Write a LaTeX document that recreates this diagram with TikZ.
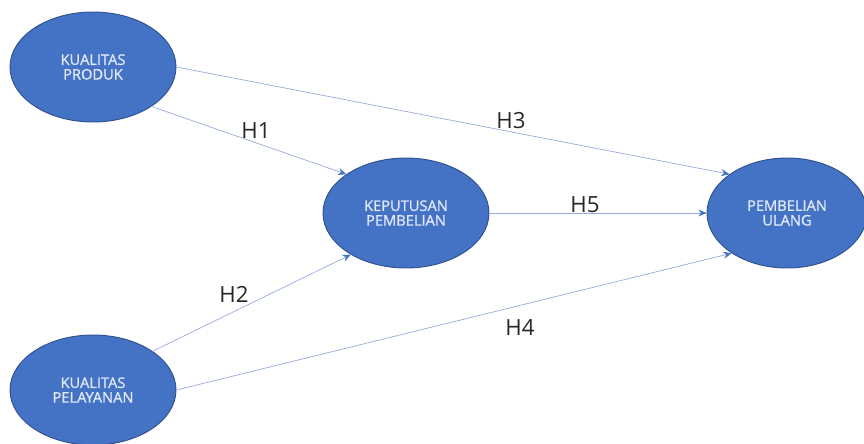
\documentclass[tikz,border=0pt]{standalone}
\usepackage{fontspec}
\setmainfont{Open Sans}
\newfontfamily\varfont{Open Sans}[FakeBold=1.2]
\usetikzlibrary{shapes.geometric,arrows.meta}
\definecolor{varblue}{RGB}{68,114,196}
\definecolor{varedge}{RGB}{47,82,143}
\definecolor{vartext}{RGB}{222,232,247}
\definecolor{pathline}{RGB}{150,172,218}
\tikzstyle{var}=[draw=varedge,ellipse,fill=varblue,line width=.8pt,inner sep=0pt,
minimum width=4.98cm,minimum height=3.3cm,text=vartext,align=center,
font=\varfont\fontsize{12.5}{12.5}\selectfont]

\begin{document}
\begin{tikzpicture}[x=.03cm,y=-.03cm,>={Stealth[length=7pt,width=6pt,color=varblue]}]
    \tikzstyle{path}=[->,draw=pathline,line width=.6pt]
    \tikzstyle{hname}=[font=\fontsize{19}{19}\selectfont,text=black!85]
    \useasboundingbox (0,0) rectangle (864,443);

    \node[var] at (93,67) (kp) {KUALITAS\\PRODUK};
    \node[var] at (93,390) (kpl) {KUALITAS\\PELAYANAN};
    \node[var] at (406,213) (kpu) {KEPUTUSAN\\PEMBELIAN};
    \node[var,minimum width=4.8cm] at (787,213) (pu) {PEMBELIAN\\ULANG};

    \draw[path] (kp.-34) -- (kpu.147);
    \draw[path] (kp.east) -- (pu.146);
    \draw[path] (kpu.east) -- (pu.west);
    \draw[path] (kpl.33) -- (kpu.-143);
    \draw[path] (kpl.east) -- (pu.-144);

    \node[hname] at (256,131) (h1) {H1};
    \node[hname] at (234,294) (h2) {H2};
    \node[hname] at (511,121) (h3) {H3};
    \node[hname] at (520,328) (h4) {H4};
    \node[hname] at (585,205) (h5) {H5};
  \end{tikzpicture}
\end{document}
